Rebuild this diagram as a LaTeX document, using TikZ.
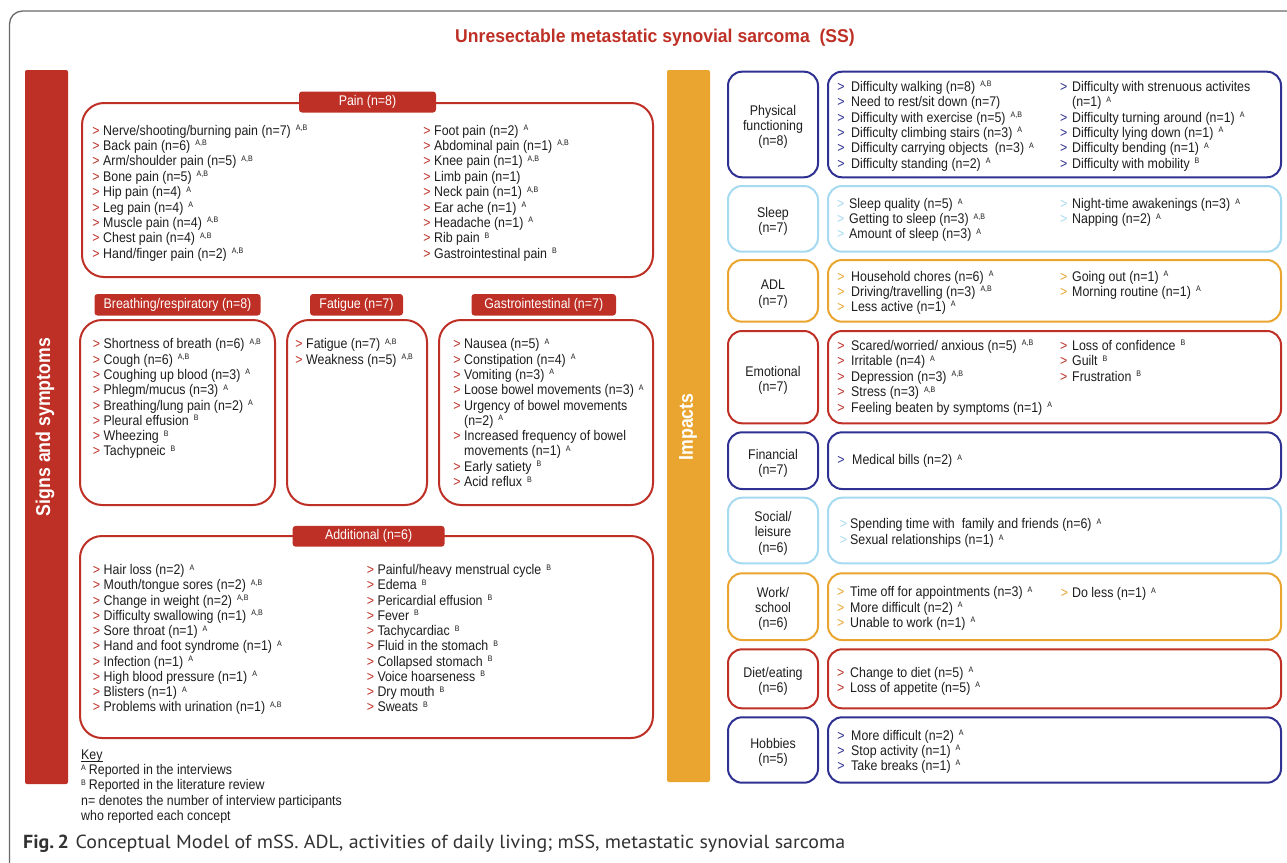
\documentclass[tikz,border=0pt]{standalone}
\usepackage{fontspec}
\setmainfont{Liberation Sans}[FakeStretch=0.885]
\newfontfamily\titlefont{Liberation Sans}[FakeStretch=0.95]
\newfontfamily\capfont{PT Sans}
\definecolor{sred}{RGB}{190,48,38}
\definecolor{sorange}{RGB}{233,165,47}
\definecolor{snavy}{RGB}{46,49,146}
\definecolor{slblue}{RGB}{165,218,240}
\definecolor{sgray}{RGB}{105,105,105}
\definecolor{stext}{RGB}{30,30,30}
\definecolor{captext}{RGB}{50,50,50}
\newcommand\sps[1]{\hspace{5pt}\raisebox{4.5pt}{\fontsize{8}{8}\selectfont #1}}
\newcommand\keysup[1]{\raisebox{4.5pt}{\fontsize{8}{8}\selectfont #1}\hspace{3pt}}
\newcommand\keyline[1]{\setbox0\hbox{#1}\rlap{\rule[-2pt]{\wd0}{0.9pt}}\box0}
\def\mkcol{sred}\def\mkgap{3.5pt}
\newcommand\itmk{\llap{\textcolor{\mkcol}{>}\hspace{\mkgap}}}
\newcommand\itemrows[5]{\foreach \itx [count=\idx from 0] in {#5} {\node[itm] (#1\idx) at (#2,{#3+#4*\idx}) {\itx};}}
\newcommand\rrow[7]{%
  \node[rbox=#2, minimum width=90pt, minimum height=#4pt] (#1L) at (773,#3) {};
  \node[rbox=#2, minimum width=453pt, minimum height=#4pt] (#1C) at (1054.5,#3) {};
  \node[lab] (#1T) at (773,#5) {#6};}
\tikzset{
  itm/.style={anchor=base west, inner sep=0pt, text=stext, font=\fontsize{14}{15.3}\selectfont},
  lbox/.style={draw=sred, line width=2pt, rounded corners=22pt, fill=white, inner sep=0pt},
  hdr/.style={fill=sred, rounded corners=3pt, text=white, inner sep=0pt, font=\fontsize{14}{15.3}\selectfont},
  rbox/.style={draw=#1, line width=2pt, rounded corners=14pt, inner sep=0pt},
  lab/.style={align=center, inner sep=0pt, text=stext, font=\fontsize{14}{15.3}\selectfont},
  bar/.style={fill=#1, rounded corners=2pt, inner sep=0pt},
  bartext/.style={rotate=90, text=white, inner sep=0pt, font=\bfseries\fontsize{20}{20}\selectfont},
}
\begin{document}
\begin{tikzpicture}[x=1pt, y=-1pt]
\useasboundingbox (0,0) rectangle (1287,862);
\fill[white] (0,0) rectangle (1287,862);
% outer frame
\draw[sgray, line width=1.3pt, rounded corners=13pt] (9.5,870) -- (9.5,11) -- (1295,11);
% title
\node[anchor=base, inner sep=0pt, text=sred, font=\titlefont\bfseries\fontsize{18.5}{20}\selectfont] (title) at (655,42.5) {Unresectable metastatic synovial sarcoma~ (SS)};
% bars
\node[bar=sred, minimum width=43pt, minimum height=714pt] (ssbar) at (46.5,427) {};
\node[bartext] (sstext) at (45,427) {Signs and symptoms};
\node[bar=sorange, minimum width=43pt, minimum height=712pt] (imbar) at (688.5,426) {};
\node[bartext] (imtext) at (688,427) {Impacts};
% ---------- Pain
\node[lbox, minimum width=571pt, minimum height=174pt] (pain) at (367.5,190) {};
\node[hdr, minimum width=137pt, minimum height=21pt] (painh) at (367.5,102) {Pain (n=8)};
\itemrows{pl}{103}{135}{15.4}{{\itmk Nerve/shooting/burning pain (n=7)\sps{A,B}},{\itmk Back pain (n=6)\sps{A,B}},{\itmk Arm/shoulder pain (n=5)\sps{A,B}},{\itmk Bone pain (n=5)\sps{A,B}},{\itmk Hip pain (n=4)\sps{A}},{\itmk Leg pain (n=4)\sps{A}},{\itmk Muscle pain (n=4)\sps{A,B}},{\itmk Chest pain (n=4)\sps{A,B}},{\itmk Hand/finger pain (n=2)\sps{A,B}}}
\itemrows{pr}{434}{135}{15.4}{{\itmk Foot pain (n=2)\sps{A}},{\itmk Abdominal pain (n=1)\sps{A,B}},{\itmk Knee pain (n=1)\sps{A,B}},{\itmk Limb pain (n=1)},{\itmk Neck pain (n=1)\sps{A,B}},{\itmk Ear ache (n=1)\sps{A}},{\itmk Headache (n=1)\sps{A}},{\itmk Rib pain\sps{B}},{\itmk Gastrointestinal pain\sps{B}}}
% ---------- Breathing / Fatigue / GI
\node[lbox, minimum width=195pt, minimum height=185pt] (breath) at (177.5,412.5) {};
\node[hdr, minimum width=166pt, minimum height=21.5pt] (breathh) at (177.5,304.75) {Breathing/respiratory (n=8)};
\node[lbox, minimum width=140pt, minimum height=185pt] (fat) at (357,412.5) {};
\node[hdr, minimum width=93pt, minimum height=21.5pt] (fath) at (356.5,304.75) {Fatigue (n=7)};
\node[lbox, minimum width=214pt, minimum height=185pt] (gi) at (546,412.5) {};
\node[hdr, minimum width=144.5pt, minimum height=21.5pt] (gih) at (543.75,304.75) {Gastrointestinal (n=7)};
\itemrows{br}{103.5}{348.8}{15.3}{{\itmk Shortness of breath (n=6)\sps{A,B}},{\itmk Cough (n=6)\sps{A,B}},{\itmk Coughing up blood (n=3)\sps{A}},{\itmk Phlegm/mucus (n=3)\sps{A}},{\itmk Breathing/lung pain (n=2)\sps{A}},{\itmk Pleural effusion\sps{B}},{\itmk Wheezing\sps{B}},{\itmk Tachypneic\sps{B}}}
\itemrows{fa}{306}{348.8}{15.3}{{\itmk Fatigue (n=7)\sps{A,B}},{\itmk Weakness (n=5)\sps{A,B}}}
\itemrows{gl}{464}{348.8}{15.3}{{\itmk Nausea (n=5)\sps{A}},{\itmk Constipation (n=4)\sps{A}},{\itmk Vomiting (n=3)\sps{A}},{\itmk Loose bowel movements (n=3)\sps{A}},{\itmk Urgency of bowel movements},{(n=2)\sps{A}},{\itmk Increased frequency of bowel},{movements (n=1)\sps{A}},{\itmk Early satiety\sps{B}},{\itmk Acid reflux\sps{B}}}
% ---------- Additional
\node[lbox, minimum width=573pt, minimum height=202pt] (add) at (366.5,637) {};
\node[hdr, minimum width=152pt, minimum height=20.7pt] (addh) at (368.6,536.3) {Additional (n=6)};
\itemrows{al}{103.5}{574.5}{15.25}{{\itmk Hair loss (n=2)\sps{A}},{\itmk Mouth/tongue sores (n=2)\sps{A,B}},{\itmk Change in weight (n=2)\sps{A,B}},{\itmk Difficulty swallowing (n=1)\sps{A,B}},{\itmk Sore throat (n=1)\sps{A}},{\itmk Hand and foot syndrome (n=1)\sps{A}},{\itmk Infection (n=1)\sps{A}},{\itmk High blood pressure (n=1)\sps{A}},{\itmk Blisters (n=1)\sps{A}},{\itmk Problems with urination (n=1)\sps{A,B}}}
\itemrows{ar}{377.3}{574.5}{15.25}{{\itmk Painful/heavy menstrual cycle\sps{B}},{\itmk Edema\sps{B}},{\itmk Pericardial effusion\sps{B}},{\itmk Fever\sps{B}},{\itmk Tachycardiac\sps{B}},{\itmk Fluid in the stomach\sps{B}},{\itmk Collapsed stomach\sps{B}},{\itmk Voice hoarseness\sps{B}},{\itmk Dry mouth\sps{B}},{\itmk Sweats\sps{B}}}
% ---------- Key
\itemrows{key}{81}{759.5}{15.2}{{\keyline{Key}},{\keysup{A}Reported in the interviews},{\keysup{B}Reported in the literature review},{n= denotes the number of interview participants},{who reported each concept}}
% ---------- Impacts
\rrow{phy}{snavy}{124.5}{105.6}{126.7}{Physical\\functioning\\(n=8)}{}
\def\mkcol{snavy}\def\mkgap{6.5pt}
\itemrows{phl}{851}{91.2}{15.4}{{\itmk Difficulty walking (n=8)\sps{A,B}},{\itmk Need to rest/sit down (n=7)},{\itmk Difficulty with exercise (n=5)\sps{A,B}},{\itmk Difficulty climbing stairs (n=3)\sps{A}},{\itmk Difficulty carrying objects~ (n=3)\sps{A}},{\itmk Difficulty standing (n=2)\sps{A}}}
\def\mkgap{4.8pt}
\itemrows{phr}{1072}{91.2}{15.4}{{\itmk Difficulty with strenuous activites},{(n=1)\sps{A}},{\itmk Difficulty turning around (n=1)\sps{A}},{\itmk Difficulty lying down (n=1)\sps{A}},{\itmk Difficulty bending (n=1)\sps{A}},{\itmk Difficulty with mobility\sps{B}}}
%
\rrow{slp}{slblue}{218.85}{65.7}{221.7}{Sleep\\(n=7)}{}
\def\mkcol{slblue}\def\mkgap{4.8pt}
\itemrows{sll}{849}{208.5}{15}{{\itmk Sleep quality (n=5)\sps{A}},{\itmk Getting to sleep (n=3)\sps{A,B}},{\itmk Amount of sleep (n=3)\sps{A}}}
\itemrows{slr}{1072}{208.5}{15}{{\itmk Night-time awakenings (n=3)\sps{A}},{\itmk Napping (n=2)\sps{A}}}
%
\rrow{adl}{sorange}{290.85}{61.7}{294.2}{ADL\\(n=7)}{}
\def\mkcol{sorange}\def\mkgap{6.5pt}
\itemrows{adll}{851}{281.2}{15}{{\itmk Household chores (n=6)\sps{A}},{\itmk Driving/travelling (n=3)\sps{A,B}},{\itmk Less active (n=1)\sps{A}}}
\def\mkgap{4.8pt}
\itemrows{adlr}{1072}{281.2}{15}{{\itmk Going out (n=1)\sps{A}},{\itmk Morning routine (n=1)\sps{A}}}
%
\rrow{emo}{sred}{377.15}{92.3}{380.3}{Emotional\\(n=7)}{}
\def\mkcol{sred}\def\mkgap{6.5pt}
\itemrows{emol}{851}{350.2}{15.5}{{\itmk Scared/worried/ anxious (n=5)\sps{A,B}},{\itmk Irritable (n=4)\sps{A}},{\itmk Depression (n=3)\sps{A,B}},{\itmk Stress (n=3)\sps{A,B}},{\itmk Feeling beaten by symptoms (n=1)\sps{A}}}
\def\mkgap{4.8pt}
\itemrows{emor}{1072}{350.2}{15.5}{{\itmk Loss of confidence\sps{B}},{\itmk Guilt\sps{B}},{\itmk Frustration\sps{B}}}
%
\rrow{fin}{snavy}{460.65}{56.7}{463.3}{Financial\\(n=7)}{}
\def\mkcol{snavy}\def\mkgap{7.5pt}
\itemrows{finl}{852}{464.5}{15}{{\itmk Medical bills (n=2)\sps{A}}}
%
\rrow{soc}{slblue}{530.5}{65.6}{533.3}{Social/\\leisure\\(n=6)}{}
\def\mkcol{slblue}\def\mkgap{3pt}
\itemrows{socl}{850}{528.5}{16}{{\itmk Spending time with~ family and friends (n=6)\sps{A}},{\itmk Sexual relationships (n=1)\sps{A}}}
%
\rrow{wrk}{sorange}{606.65}{66.7}{608.8}{Work/\\school\\(n=6)}{}
\def\mkcol{sorange}\def\mkgap{5.8pt}
\itemrows{wrkl}{850}{596.8}{15.2}{{\itmk Time off for appointments (n=3)\sps{A}},{\itmk More difficult (n=2)\sps{A}},{\itmk Unable to work (n=1)\sps{A}}}
\def\mkgap{4pt}
\itemrows{wrkr}{1072}{597.8}{15}{{\itmk Do less (n=1)\sps{A}}}
%
\rrow{diet}{sred}{678.8}{59}{681.2}{Diet/eating\\(n=6)}{}
\def\mkcol{sred}\def\mkgap{5.8pt}
\itemrows{dietl}{850}{677.2}{15}{{\itmk Change to diet (n=5)\sps{A}},{\itmk Loss of appetite (n=5)\sps{A}}}
%
\rrow{hob}{snavy}{750}{65.4}{752.2}{Hobbies\\(n=5)}{}
\def\mkcol{snavy}\def\mkgap{6.5pt}
\itemrows{hobl}{851}{740.2}{15.1}{{\itmk More difficult (n=2)\sps{A}},{\itmk Stop activity (n=1)\sps{A}},{\itmk Take breaks (n=1)\sps{A}}}
% ---------- caption
\node[anchor=base west, inner sep=0pt, text=captext] (cap) at (23,848) {\resizebox{822pt}{13.5pt}{\capfont\fontsize{18}{18}\selectfont\textbf{Fig.\,2}\hspace{6pt}Conceptual Model of mSS. ADL, activities of daily living; mSS, metastatic synovial sarcoma}};
\end{tikzpicture}
\end{document}
